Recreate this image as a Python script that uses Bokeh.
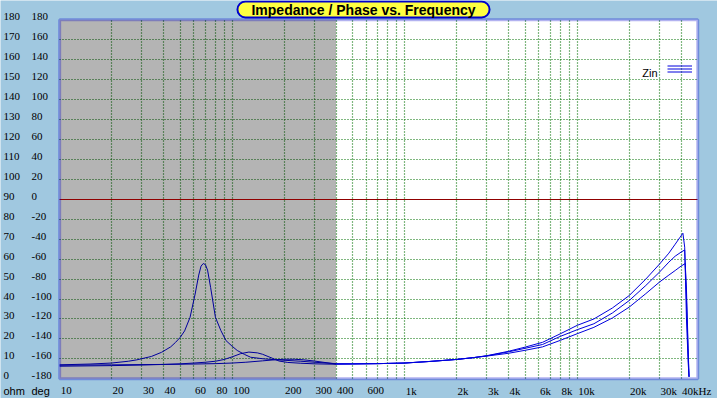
from bokeh.plotting import figure
from bokeh.models import (Range1d, FixedTicker, Grid, BoxAnnotation, Label,
                          LabelSet, ColumnDataSource, Legend, LegendItem)
from bokeh.embed import file_html
from bokeh.resources import INLINE

# ---------------- data ----------------
freq_a = [10, 15, 20, 25, 28, 34, 39, 44, 47, 50, 53, 57, 61, 64, 66, 68, 70, 72, 75, 80,
          86, 92, 100, 107, 118, 128, 152, 175, 200, 250, 300, 400, 500, 700, 1000, 1400,
          2000, 2500, 3000, 4000, 5000, 6300, 8000, 10000, 12500, 16000, 20000, 25000,
          30000, 34000, 37000, 39500, 41000, 42000, 43000, 44000, 44500]
zin_a = [7.0, 7.4, 7.9, 8.8, 9.5, 11.2, 13.3, 16.0, 18.3, 20.8, 24.0, 30.8, 42.5, 52.0, 56.5,
         57.8, 57.2, 54.5, 45.8, 30.8, 24.2, 19.2, 16.3, 14.2, 12.2, 10.8, 10.0, 9.6, 9.3,
         8.8, 8.3, 7.6, 7.5, 7.6, 7.9, 8.7, 9.7, 10.6, 11.6, 13.8, 15.9, 18.3, 22.6, 26.8,
         30.0, 35.5, 41.7, 50.0, 57.5, 63.0, 67.5, 71.0, 73.0, 66.0, 30.0, 8.0, 1.0]

freq_b = [10, 20, 30, 40, 50, 60, 70, 80, 90, 100, 112, 125, 140, 150, 171, 187, 210, 250,
          300, 400, 500, 700, 1000, 1400, 2000, 2500, 3000, 4000, 5000, 6300, 8000, 10000,
          12500, 16000, 20000, 25000, 30000, 34000, 37000, 40000, 42000, 43000, 44000, 44500]
zin_b = [6.3, 6.6, 6.9, 7.2, 7.5, 7.9, 8.3, 8.8, 9.7, 11.0, 12.6, 13.4, 13.0, 12.3, 10.3,
         8.9, 8.2, 7.8, 7.5, 7.3, 7.4, 7.6, 7.9, 8.7, 9.7, 10.6, 11.5, 13.5, 15.3, 17.2,
         21.3, 24.6, 27.6, 33.0, 39.2, 46.8, 53.5, 58.5, 61.5, 63.5, 64.6, 40.0, 12.0, 1.0]

freq_c = [10, 20, 40, 60, 80, 100, 120, 150, 175, 200, 230, 260, 300, 350, 400, 500, 700,
          1000, 1400, 2000, 2500, 3000, 4000, 5000, 6300, 8000, 10000, 12500, 16000, 20000,
          25000, 30000, 34000, 37000, 40000, 42300, 43000, 44000, 44500]
zin_c = [6.8, 7.0, 7.2, 7.4, 7.6, 7.9, 8.3, 9.0, 9.5, 9.8, 9.8, 9.5, 8.9, 8.1, 7.4, 7.5,
         7.6, 7.9, 8.7, 9.7, 10.6, 11.4, 12.8, 14.3, 16.0, 19.3, 22.6, 25.8, 30.5, 35.9,
         42.7, 48.5, 52.0, 54.3, 56.5, 57.8, 45.0, 15.0, 1.0]

x_tick_vals = [10, 20, 30, 40, 60, 80, 100, 200, 300, 400, 600, 1000, 2000, 3000, 4000,
               6000, 8000, 10000, 20000, 30000, 40000]
x_tick_text = ["10", "20", "30", "40", "60", "80", "100", "200", "300", "400", "600", "1k",
               "2k", "3k", "4k", "6k", "8k", "10k", "20k", "30k", "40kHz"]
x_grid_vals = [20, 30, 40, 50, 60, 70, 80, 90, 100, 200, 300, 400, 500, 600, 700, 800, 900,
               1000, 2000, 3000, 4000, 5000, 6000, 7000, 8000, 9000, 10000, 20000, 30000,
               40000]
ohm_ticks = [0, 10, 20, 30, 40, 50, 60, 70, 80, 90, 100, 110, 120, 130, 140, 150, 160, 170, 180]
ohm_grid = [10, 20, 30, 40, 50, 60, 70, 80, 100, 110, 120, 130, 140, 150, 160, 170]
deg_ticks = [-180, -160, -140, -120, -100, -80, -60, -40, -20, 0, 20, 40, 60, 80, 100, 120,
             140, 160, 180]
zero_phase_ohm = [90]
freq_min, freq_max = 10, 50000
ohm_min, ohm_max = 0, 180
shaded_until_hz = 400
title_text = "Impedance / Phase vs. Frequency"
legend_text = "Zin"
unit_labels = ["ohm", "deg"]

# ---------------- style / layout ----------------
BG = "#A0C8E0"
CURVE = "#0000DD"
FRAME = "#0000CC"
GRID = "#007000"
FONT = "Liberation Sans"
FS = "11px"
W, H = 717, 398

# the figure frame covers the whole canvas; the plot box sits inside it
p = figure(width=W, height=H, x_axis_type="log", x_range=Range1d(4.54, 65070),
           y_range=Range1d(-9.88, 189.68), output_backend="svg", toolbar_location=None,
           x_axis_location=None, y_axis_location=None, title=None, min_border=0,
           background_fill_color=BG, border_fill_color=BG, outline_line_color=None)
p.extra_y_ranges = {"deg": Range1d(-199.76, 199.36)}
p.xgrid.visible = False
p.ygrid.visible = False

plot_box = BoxAnnotation(left=freq_min, right=freq_max, bottom=ohm_min, top=ohm_max,
                         fill_color="white", fill_alpha=1, line_alpha=0, level="image")
p.add_layout(plot_box)

xg = Grid(dimension=0, ticker=FixedTicker(ticks=x_grid_vals), cross_bounds=(ohm_min, ohm_max),
          grid_line_color=GRID, grid_line_dash="1 2", grid_line_width=1.2)
yg = Grid(dimension=1, ticker=FixedTicker(ticks=ohm_grid), cross_bounds=(freq_min, freq_max),
          grid_line_color=GRID, grid_line_dash="1 2", grid_line_width=1.2)
p.add_layout(xg, "center")
p.add_layout(yg, "center")

ra = p.line(freq_a, zin_a, line_color=CURVE, line_width=1)
rb = p.line(freq_b, zin_b, line_color=CURVE, line_width=1)
rc = p.line(freq_c, zin_c, line_color=CURVE, line_width=1)

shade = BoxAnnotation(left=freq_min, right=shaded_until_hz, bottom=ohm_min, top=ohm_max,
                      fill_color="black", fill_alpha=0.295, line_alpha=0, level="annotation")
p.add_layout(shade)

zg = Grid(dimension=1, ticker=FixedTicker(ticks=zero_phase_ohm), cross_bounds=(freq_min, freq_max),
          grid_line_color="#900000", grid_line_width=1, level="overlay")
p.add_layout(zg, "center")

border = BoxAnnotation(left=freq_min, right=freq_max, bottom=ohm_min, top=ohm_max,
                       fill_alpha=0, line_color=FRAME, line_width=3, level="overlay")
p.add_layout(border)

# tick labels (left-aligned, as in the original)
xsrc = ColumnDataSource(dict(x=x_tick_vals, t=x_tick_text))
p.add_layout(LabelSet(x="x", y=8, y_units="screen", text="t", source=xsrc, x_offset=1,
                      text_align="left", text_baseline="middle", text_font=FONT,
                      text_font_size=FS, text_color="black"))
osrc = ColumnDataSource(dict(y=ohm_ticks, t=[str(v) for v in ohm_ticks]))
p.add_layout(LabelSet(x=3, x_units="screen", y="y", text="t", source=osrc, y_offset=3,
                      text_align="left", text_baseline="middle", text_font=FONT,
                      text_font_size=FS, text_color="black"))
dsrc = ColumnDataSource(dict(y=deg_ticks, t=[str(v) for v in deg_ticks]))
p.add_layout(LabelSet(x=31, x_units="screen", y="y", y_range_name="deg", text="t",
                      source=dsrc, y_offset=3, text_align="left", text_baseline="middle",
                      text_font=FONT, text_font_size=FS, text_color="black"))
for ux, ut in zip([3, 31], unit_labels):
    p.add_layout(Label(x=ux, y=8, x_units="screen", y_units="screen", text=ut,
                       text_align="left", text_baseline="middle", text_font=FONT,
                       text_font_size=FS, text_color="black"))

# legend
legend = Legend(items=[LegendItem(label="", renderers=[r]) for r in (ra, rb, rc)],
                location=(667, 325), glyph_width=25, glyph_height=3, label_height=3,
                label_width=0, label_standoff=0, spacing=0, padding=0, margin=0,
                label_text_font_size="1px", background_fill_alpha=0, border_line_alpha=0)
p.add_layout(legend)
p.add_layout(Label(x=657, y=326, x_units="screen", y_units="screen", text=legend_text,
                   text_align="right", text_baseline="middle", text_font=FONT,
                   text_font_size=FS, text_color="black"))

# title
p.add_layout(Label(x=363, y=389, x_units="screen", y_units="screen", text=title_text,
                   text_align="center", text_baseline="middle", text_font=FONT,
                   text_font_style="bold", text_font_size="14px", text_color="black",
                   background_fill_color="#FFFF40", border_line_color=FRAME,
                   border_line_width=2, border_radius=8, padding=(14, 0)))

open("out.html", "w").write(file_html(p, INLINE))
